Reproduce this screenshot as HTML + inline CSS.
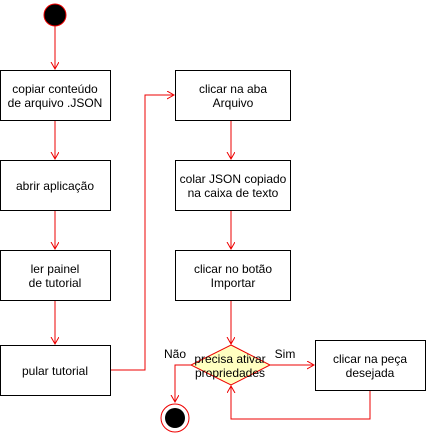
<!DOCTYPE html>
<html><head><style>body{margin:0;background:#fff} text{font-family:"Liberation Sans",sans-serif;font-size:12px}</style></head><body>
<svg width="426" height="434" viewBox="0 0 426 434" xmlns="http://www.w3.org/2000/svg">
<defs><marker id="a" markerWidth="10" markerHeight="10" refX="7" refY="4" orient="auto" markerUnits="userSpaceOnUse"><path d="M0,0 L7,4 L0,8" fill="none" stroke="#e00" stroke-width="1"/></marker></defs>
<circle cx="55" cy="15" r="11" fill="#000" stroke="#e00" stroke-width="1"/>
<g fill="none" stroke="#e00" stroke-width="1">
<path d="M55 26V69" marker-end="url(#a)"/>
<path d="M55 120V159" marker-end="url(#a)"/>
<path d="M55 210V249" marker-end="url(#a)"/>
<path d="M55 300V344" marker-end="url(#a)"/>
<path d="M110 370H145V95H174" marker-end="url(#a)"/>
<path d="M231 120V159" marker-end="url(#a)"/>
<path d="M231 210V249" marker-end="url(#a)"/>
<path d="M231 300V344" marker-end="url(#a)"/>
<path d="M270 365H314" marker-end="url(#a)"/>
<path d="M370 390V419H231V386" marker-end="url(#a)"/>
<path d="M191 365H175V402" marker-end="url(#a)"/>
</g>
<g fill="#fff" stroke="#000" stroke-width="1">
<rect x="0.5" y="70.5" width="110" height="50"/>
<rect x="0.5" y="160.5" width="110" height="50"/>
<rect x="0.5" y="250.5" width="110" height="50"/>
<rect x="0.5" y="345.5" width="110" height="50"/>
<rect x="175.5" y="70.5" width="115" height="50"/>
<rect x="175.5" y="160.5" width="115" height="50"/>
<rect x="175.5" y="250.5" width="115" height="50"/>
<rect x="315.5" y="340.5" width="110" height="50"/>
</g>
<path d="M231 345L270 365L231 385L191 365Z" fill="#ffffc0" stroke="#e00"/>
<circle cx="175" cy="418" r="14" fill="#fff" stroke="#e00"/>
<circle cx="175" cy="418" r="10" fill="#000"/>
<g text-anchor="middle" fill="#000">
<text x="55" y="93">copiar conteúdo</text><text x="55" y="107">de arquivo .JSON</text>
<text x="55" y="190">abrir aplicação</text>
<text x="55" y="273">ler painel</text><text x="55" y="287">de tutorial</text>
<text x="55" y="375">pular tutorial</text>
<text x="233" y="93">clicar na aba</text><text x="233" y="107">Arquivo</text>
<text x="233" y="183">colar JSON copiado</text><text x="233" y="197">na caixa de texto</text>
<text x="233" y="273">clicar no botão</text><text x="233" y="287">Importar</text>
<text x="370" y="363">clicar na peça</text><text x="370" y="377">desejada</text>
<text x="230" y="363">precisa ativar</text><text x="230" y="377">propriedades</text>
<text x="175" y="358">Não</text>
<text x="285" y="358">Sim</text>
</g>
</svg>
</body></html>
